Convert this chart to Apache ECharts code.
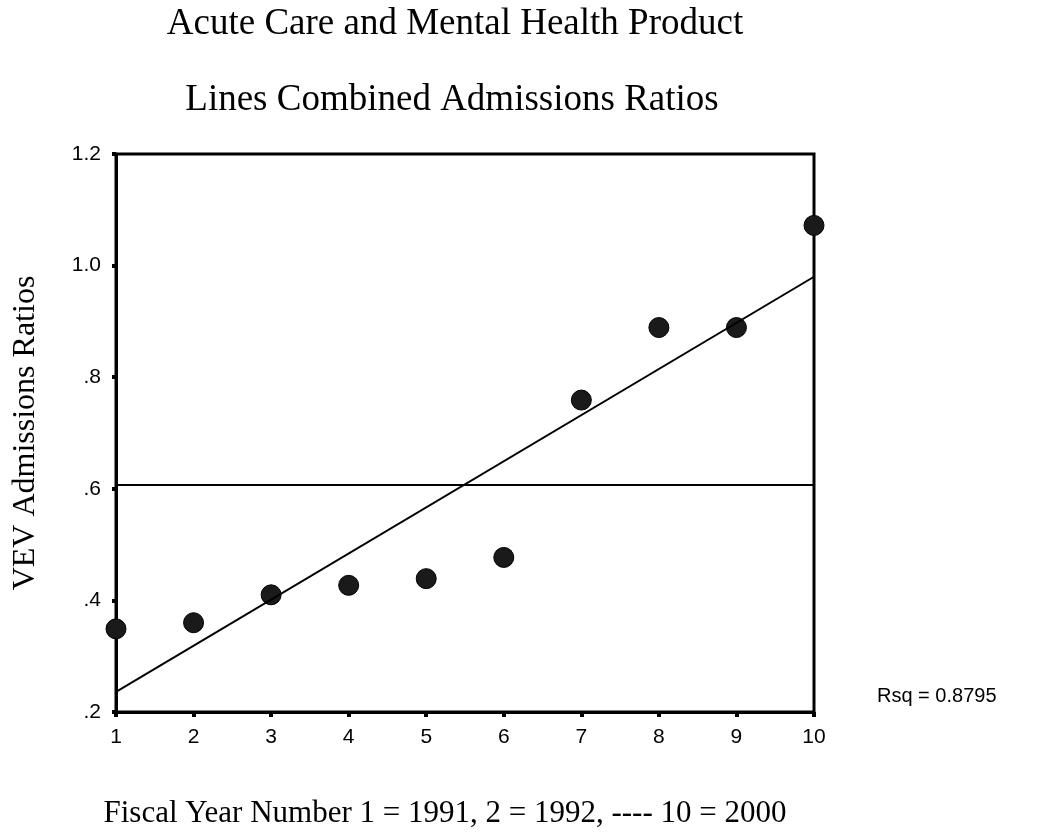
<!DOCTYPE html>
<html>
<head>
<meta charset="utf-8">
<script src="https://cdn.jsdelivr.net/npm/echarts@6/dist/echarts.min.js"></script>
<style>
html,body{margin:0;padding:0;background:#fff;}
#main{width:1040px;height:838px;}
</style>
</head>
<body>
<div id="main"></div>
<script>
var years = [1, 2, 3, 4, 5, 6, 7, 8, 9, 10];
var ratios = [0.349, 0.360, 0.410, 0.427, 0.439, 0.477, 0.759, 0.889, 0.889, 1.072];
var meanRatio = 0.607;
var fitEnds = [[1, 0.236], [10, 0.980]];
var titleLines = ["Acute Care and Mental Health Product", "Lines Combined Admissions Ratios"];
var rsqText = "Rsq = 0.8795";

var chart = echarts.init(document.getElementById("main"));
var points = years.map(function (x, i) { return [x, ratios[i]]; });
// mean line spans the year range
var meanLine = [[years[0], meanRatio], [years[years.length - 1], meanRatio]];

var titleStyle = {
    fontFamily: "Liberation Serif",
    fontWeight: "normal",
    fontSize: 37,
    color: "#000",
    lineHeight: 40
};

var option = {
    backgroundColor: "#fff",
    animation: false,
    title: [
        { text: titleLines[0], left: 455, textAlign: "center", top: 4, padding: 0, textStyle: titleStyle },
        { text: titleLines[1], left: 452, textAlign: "center", top: 80, padding: 0, textStyle: titleStyle }
    ],
    grid: {
        left: 116, right: 226, top: 154, bottom: 126,
        show: true, borderColor: "#000", borderWidth: 3
    },
    xAxis: {
        type: "value",
        min: 1, max: 10, interval: 1,
        name: "Fiscal Year Number 1 = 1991, 2 = 1992, ---- 10 = 2000",
        nameLocation: "middle",
        nameGap: 86,
        nameTextStyle: { fontFamily: "Liberation Serif", fontSize: 31, color: "#000", padding: [0, 40, 0, 0] },
        axisLine: { lineStyle: { color: "#000", width: 3 } },
        axisTick: { length: 5, lineStyle: { color: "#000", width: 4 } },
        axisLabel: { fontFamily: "Liberation Sans", fontSize: 21, color: "#000", margin: 15 },
        splitLine: { show: false }
    },
    yAxis: {
        type: "value",
        min: 0.2, max: 1.2, interval: 0.2,
        name: "VEV Admissions Ratios",
        nameLocation: "middle",
        nameGap: 74,
        nameTextStyle: { fontFamily: "Liberation Serif", fontSize: 32, color: "#000" },
        axisLine: { lineStyle: { color: "#000", width: 3 } },
        axisTick: { length: 4, lineStyle: { color: "#000", width: 4 } },
        axisLabel: {
            fontFamily: "Liberation Sans", fontSize: 21, color: "#000", margin: 15,
            formatter: function (v) {
                var s = v.toFixed(1);
                return v < 1 ? s.replace("0.", ".") : s;
            }
        },
        splitLine: { show: false }
    },
    graphic: [{
        type: "text",
        left: 877, top: 686,
        style: { text: rsqText, font: "20px 'Liberation Sans'", fill: "#000" }
    }],
    series: [
        {
            type: "line", data: meanLine, symbol: "none",
            lineStyle: { color: "#000", width: 2 }
        },
        {
            type: "line", data: fitEnds, symbol: "none",
            lineStyle: { color: "#000", width: 2 }
        },
        {
            type: "scatter", data: points, symbolSize: 20,
            itemStyle: { color: "#1a1a1a", opacity: 1, borderColor: "#000", borderWidth: 1 }
        }
    ]
};
chart.setOption(option);
</script>
</body>
</html>
